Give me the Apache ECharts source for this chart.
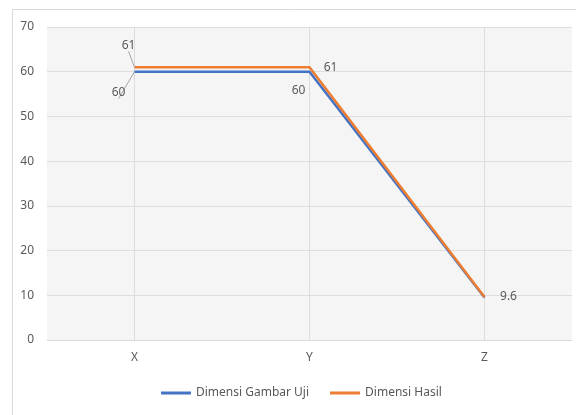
<!DOCTYPE html>
<html><head><meta charset="utf-8">
<script src="https://cdn.jsdelivr.net/npm/echarts@6/dist/echarts.min.js"></script>
<style>html,body{margin:0;padding:0;background:#fff}#c{width:576px;height:415px}</style>
</head><body><div id="c"></div>
<script>
const categories = ['X', 'Y', 'Z'];
const gambarUji = [60, 60, 9.5];
const hasil = [61, 61, 9.6];
const yTicks = [0, 10, 20, 30, 40, 50, 60, 70];

const font = "'Noto Sans', sans-serif";
const txt = '#595959';
const chart = echarts.init(document.getElementById('c'));

const leader = {show: true, lineStyle: {color: '#a6a6a6', width: 1}};
const blueLabels = [
  {label: {position: 'inside', offset: [-16, 21], show: true}, labelLine: leader},
  {label: {position: 'inside', offset: [-11, 19], show: true}},
  {label: {show: false}}
];
const orangeLabels = [
  {label: {position: 'inside', offset: [-6, -22], show: true}, labelLine: leader},
  {label: {position: 'inside', offset: [21, 0], show: true}},
  {label: {position: 'inside', offset: [24, 0], show: true}}
];

chart.setOption({
  animation: false,
  backgroundColor: '#fff',
  textStyle: {fontFamily: font},
  graphic: [{
    type: 'rect', left: 10, top: 7,
    shape: {width: 580, height: 420},
    style: {fill: 'none', stroke: '#d9d9d9', lineWidth: 1}, silent: true, z: -1
  }],
  grid: {left: 47, right: 4, top: 27, bottom: 75, show: true, backgroundColor: '#f5f5f5', borderWidth: 0},
  legend: {
    left: 156, top: 382, itemWidth: 30, itemHeight: 3, itemGap: 21, icon: 'rect',
    textStyle: {color: txt, fontSize: 12, fontFamily: font},
    data: ['Dimensi Gambar Uji', 'Dimensi Hasil']
  },
  xAxis: {
    type: 'category', data: categories, boundaryGap: true,
    axisLine: {lineStyle: {color: '#d9d9d9'}},
    axisTick: {show: false},
    axisLabel: {color: txt, fontSize: 12, margin: 12},
    splitLine: {show: false}
  },
  yAxis: {
    type: 'value', min: yTicks[0], max: yTicks[yTicks.length - 1], interval: 10,
    axisLine: {show: false}, axisTick: {show: false},
    axisLabel: {color: txt, fontSize: 12, margin: 13},
    splitLine: {lineStyle: {color: '#dedede'}}
  },
  series: [
    {
      name: 'Dimensi Gambar Uji', type: 'line', symbol: 'circle', symbolSize: 0,
      lineStyle: {color: '#4472C4', width: 2.5}, itemStyle: {color: '#4472C4'},
      label: {show: true, color: txt, fontSize: 12},
      data: gambarUji.map((v, i) => Object.assign({value: v}, blueLabels[i])),
      markLine: {
        silent: true, symbol: 'none', label: {show: false},
        lineStyle: {color: '#dcdcdc', type: 'solid', width: 1},
        data: categories.map(c => ({xAxis: c})), z: 1
      },
      z: 3
    },
    {
      name: 'Dimensi Hasil', type: 'line', symbol: 'circle', symbolSize: 0,
      lineStyle: {color: '#ED7D31', width: 2.5}, itemStyle: {color: '#ED7D31'},
      label: {show: true, color: txt, fontSize: 12},
      data: hasil.map((v, i) => Object.assign({value: v}, orangeLabels[i])),
      z: 4
    }
  ]
});
</script></body></html>
